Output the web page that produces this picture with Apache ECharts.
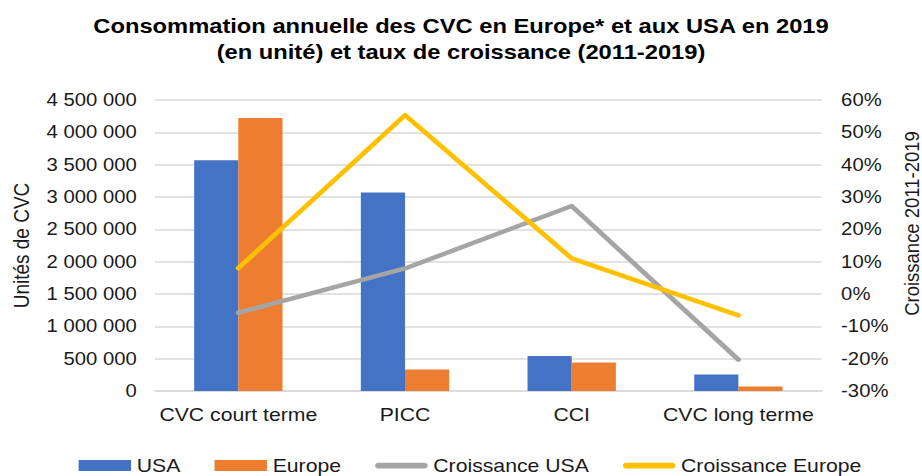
<!DOCTYPE html>
<html>
<head>
<meta charset="utf-8">
<title>Consommation annuelle des CVC</title>
<script src="https://cdn.jsdelivr.net/npm/echarts@6/dist/echarts.min.js"></script>
<style>
  html, body { margin: 0; padding: 0; background: #fff; overflow: hidden; }
  /* le graphique d'origine est étiré horizontalement */
  #chart { width: 809px; height: 476px; transform: scaleX(1.1397); transform-origin: 0 0; }
</style>
</head>
<body>
<div id="chart"></div>
<script>
  // catégories
  var categories = ['CVC court terme', 'PICC', 'CCI', 'CVC long terme'];
  // unités consommées en 2019
  var usa = [3570000, 3070000, 542000, 254000];
  var europe = [4220000, 331000, 440000, 70000];
  // croissance 2011-2019
  var croissanceUsa = [-0.058, 0.079, 0.272, -0.203];
  var croissanceEurope = [0.080, 0.553, 0.110, -0.066];

  var font = "'Liberation Sans', Arial, sans-serif";
  var lineIcon = 'path://M3,0 H45 A3,3 0 0 1 45,6 H3 A3,3 0 0 1 3,0 Z';

  function espaces(v) {
    return String(v).replace(/\B(?=(\d{3})+(?!\d))/g, ' ');
  }

  var chart = echarts.init(document.getElementById('chart'), null, {renderer: 'svg'});

  var option = {
    animation: false,
    textStyle: {fontFamily: font},
    title: {
      text: 'Consommation annuelle des CVC en Europe* et aux USA en 2019\n(en unité) et taux de croissance (2011-2019)',
      left: 'center',
      top: 8,
      textStyle: {fontFamily: font, fontSize: 20.8, fontWeight: 'bold', color: '#000', lineHeight: 26}
    },
    legend: {
      left: 64,
      top: 451,
      itemWidth: 46,
      itemHeight: 11,
      itemGap: 30,
      textStyle: {fontFamily: font, fontSize: 18.6, color: '#1a1a1a'},
      data: [
        {name: 'USA', icon: 'rect'},
        {name: 'Europe', icon: 'rect'},
        {name: 'Croissance USA', icon: lineIcon},
        {name: 'Croissance Europe', icon: lineIcon}
      ]
    },
    grid: {left: 136, right: 88, top: 100, bottom: 85, containLabel: false, outerBoundsMode: 'none'},
    xAxis: {
      type: 'category',
      data: categories,
      axisTick: {show: false},
      axisLine: {lineStyle: {color: '#d9d9d9', width: 1.5}},
      axisLabel: {fontFamily: font, fontSize: 18.6, color: '#1a1a1a', margin: 14, interval: 0}
    },
    yAxis: [
      {
        type: 'value',
        min: 0,
        max: 4500000,
        interval: 500000,
        name: 'Unités de CVC',
        nameLocation: 'middle',
        nameRotate: 90,
        nameGap: 108,
        nameTextStyle: {fontFamily: font, fontSize: 19, color: '#1a1a1a'},
        axisLine: {show: false},
        axisTick: {show: false},
        splitLine: {lineStyle: {color: '#d9d9d9', width: 1.5}},
        axisLabel: {
          fontFamily: font, fontSize: 17.8, color: '#1a1a1a', margin: 16,
          formatter: espaces
        }
      },
      {
        type: 'value',
        min: -0.3,
        max: 0.6,
        interval: 0.1,
        name: 'Croissance 2011-2019',
        nameLocation: 'middle',
        nameRotate: 90,
        nameGap: 64,
        nameTextStyle: {fontFamily: font, fontSize: 18.5, color: '#1a1a1a', padding: [0, 0, 0, 44]},
        axisLine: {show: false},
        axisTick: {show: false},
        splitLine: {show: false},
        axisLabel: {
          fontFamily: font, fontSize: 17.8, color: '#1a1a1a', margin: 17,
          formatter: function (v) { return Math.round(v * 100) + '%'; }
        }
      }
    ],
    series: [
      {
        name: 'USA',
        type: 'bar',
        data: usa,
        barGap: '0%',
        barCategoryGap: '47%',
        itemStyle: {color: '#4472C4'}
      },
      {
        name: 'Europe',
        type: 'bar',
        data: europe,
        itemStyle: {color: '#ED7D31'}
      },
      {
        name: 'Croissance USA',
        type: 'line',
        yAxisIndex: 1,
        data: croissanceUsa,
        showSymbol: false,
        symbol: 'none',
        itemStyle: {color: '#A5A5A5'},
        lineStyle: {color: '#A5A5A5', width: 4.5, cap: 'round', join: 'round'}
      },
      {
        name: 'Croissance Europe',
        type: 'line',
        yAxisIndex: 1,
        data: croissanceEurope,
        showSymbol: false,
        symbol: 'none',
        itemStyle: {color: '#FFC000'},
        lineStyle: {color: '#FFC000', width: 4.5, cap: 'round', join: 'round'}
      }
    ]
  };

  chart.setOption(option);
</script>
</body>
</html>
